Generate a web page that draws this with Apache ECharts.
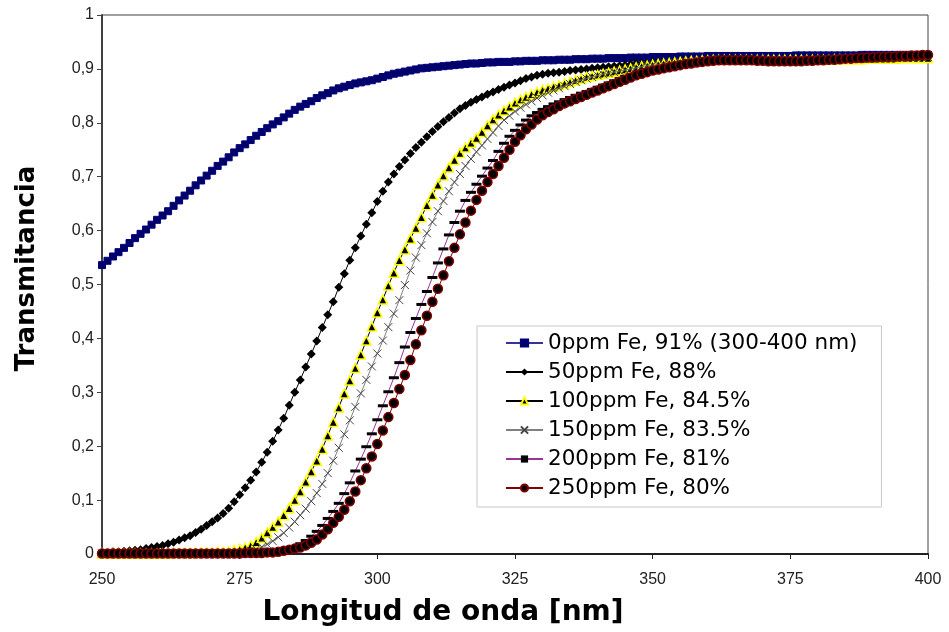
<!DOCTYPE html>
<html>
<head>
<meta charset="utf-8">
<script src="https://cdn.jsdelivr.net/npm/echarts@6/dist/echarts.min.js"></script>
<style>
  html, body { margin: 0; padding: 0; background: #fff; }
  #chart { width: 949px; height: 632px; }
</style>
</head>
<body>
<div id="chart"></div>
<script>
// wavelength grid, 250..400 nm, 1 nm step
const wavelengths = []
for (let w = 250; w <= 400; w++) wavelengths.push(w)

const seriesNames = [
  '0ppm Fe, 91% (300-400 nm)',
  '50ppm Fe, 88%',
  '100ppm Fe, 84.5%',
  '150ppm Fe, 83.5%',
  '200ppm Fe, 81%',
  '250ppm Fe, 80%'
]

const xTicks = [250, 275, 300, 325, 350, 375, 400]

const fe0 = [
  0.536, 0.544, 0.552, 0.560, 0.568, 0.577, 0.586, 0.594, 0.602, 0.611,
  0.620, 0.628, 0.636, 0.646, 0.656, 0.665, 0.674, 0.684, 0.693, 0.702,
  0.711, 0.720, 0.728, 0.736, 0.745, 0.753, 0.760, 0.768, 0.776, 0.783,
  0.790, 0.797, 0.803, 0.810, 0.817, 0.824, 0.830, 0.835, 0.840, 0.846,
  0.851, 0.855, 0.860, 0.864, 0.867, 0.870, 0.873, 0.875, 0.877, 0.879,
  0.882, 0.885, 0.888, 0.891, 0.893, 0.895, 0.897, 0.899, 0.901, 0.902,
  0.903, 0.904, 0.905, 0.906, 0.907, 0.908, 0.909, 0.910, 0.910, 0.911,
  0.912, 0.912, 0.913, 0.913, 0.913, 0.914, 0.914, 0.915, 0.915, 0.915,
  0.916, 0.916, 0.916, 0.917, 0.917, 0.917, 0.918, 0.918, 0.918, 0.919,
  0.919, 0.919, 0.920, 0.920, 0.920, 0.920, 0.921, 0.921, 0.921, 0.921,
  0.922, 0.922, 0.922, 0.922, 0.922, 0.923, 0.923, 0.923, 0.923, 0.923,
  0.924, 0.924, 0.924, 0.924, 0.924, 0.924, 0.924, 0.924, 0.924, 0.924,
  0.924, 0.924, 0.924, 0.924, 0.924, 0.924, 0.925, 0.925, 0.925, 0.925,
  0.925, 0.925, 0.925, 0.925, 0.925, 0.925, 0.925, 0.925, 0.926, 0.926,
  0.926, 0.926, 0.926, 0.926, 0.926, 0.926, 0.926, 0.926, 0.926, 0.926,
  0.926
]

const fe50 = [
  0.003, 0.003, 0.004, 0.004, 0.005, 0.006, 0.007, 0.008, 0.010, 0.012,
  0.014, 0.016, 0.019, 0.022, 0.026, 0.030, 0.034, 0.040, 0.046, 0.053,
  0.060, 0.067, 0.075, 0.085, 0.097, 0.110, 0.123, 0.137, 0.152, 0.170,
  0.189, 0.209, 0.230, 0.252, 0.276, 0.300, 0.323, 0.347, 0.371, 0.395,
  0.420, 0.444, 0.468, 0.495, 0.520, 0.545, 0.568, 0.590, 0.612, 0.633,
  0.654, 0.673, 0.690, 0.705, 0.719, 0.731, 0.743, 0.754, 0.764, 0.774,
  0.784, 0.793, 0.802, 0.810, 0.818, 0.826, 0.832, 0.838, 0.843, 0.848,
  0.853, 0.857, 0.862, 0.866, 0.870, 0.874, 0.878, 0.882, 0.885, 0.888,
  0.890, 0.892, 0.893, 0.894, 0.895, 0.897, 0.898, 0.899, 0.900, 0.901,
  0.902, 0.903, 0.904, 0.905, 0.906, 0.907, 0.908, 0.909, 0.909, 0.910,
  0.911, 0.911, 0.912, 0.912, 0.913, 0.913, 0.914, 0.914, 0.915, 0.915,
  0.916, 0.916, 0.916, 0.917, 0.917, 0.917, 0.917, 0.917, 0.917, 0.917,
  0.917, 0.917, 0.917, 0.917, 0.917, 0.917, 0.917, 0.917, 0.918, 0.918,
  0.918, 0.918, 0.919, 0.919, 0.919, 0.920, 0.920, 0.920, 0.921, 0.921,
  0.921, 0.922, 0.922, 0.922, 0.923, 0.923, 0.923, 0.924, 0.924, 0.924,
  0.925
]

const fe100 = [
  0.001, 0.001, 0.001, 0.001, 0.001, 0.001, 0.001, 0.001, 0.001, 0.001,
  0.001, 0.001, 0.001, 0.002, 0.002, 0.002, 0.002, 0.002, 0.003, 0.003,
  0.003, 0.004, 0.004, 0.005, 0.007, 0.009, 0.012, 0.016, 0.022, 0.030,
  0.040, 0.050, 0.060, 0.072, 0.085, 0.100, 0.116, 0.134, 0.153, 0.173,
  0.195, 0.220, 0.245, 0.272, 0.298, 0.322, 0.345, 0.370, 0.396, 0.422,
  0.448, 0.472, 0.498, 0.522, 0.545, 0.565, 0.585, 0.605, 0.625, 0.647,
  0.666, 0.685, 0.702, 0.717, 0.731, 0.744, 0.754, 0.763, 0.772, 0.783,
  0.795, 0.806, 0.815, 0.823, 0.830, 0.837, 0.843, 0.848, 0.853, 0.857,
  0.861, 0.864, 0.867, 0.870, 0.873, 0.876, 0.879, 0.882, 0.885, 0.887,
  0.889, 0.891, 0.893, 0.895, 0.897, 0.899, 0.901, 0.903, 0.905, 0.906,
  0.908, 0.909, 0.910, 0.911, 0.912, 0.913, 0.914, 0.915, 0.915, 0.916,
  0.916, 0.917, 0.917, 0.917, 0.917, 0.917, 0.917, 0.917, 0.917, 0.917,
  0.917, 0.917, 0.917, 0.917, 0.917, 0.917, 0.917, 0.917, 0.917, 0.917,
  0.917, 0.917, 0.917, 0.918, 0.918, 0.918, 0.918, 0.918, 0.918, 0.919,
  0.919, 0.919, 0.919, 0.919, 0.919, 0.920, 0.920, 0.920, 0.920, 0.920,
  0.920
]

const fe150 = [
  0.001, 0.001, 0.001, 0.001, 0.001, 0.001, 0.001, 0.001, 0.001, 0.001,
  0.001, 0.001, 0.001, 0.001, 0.001, 0.001, 0.001, 0.001, 0.001, 0.001,
  0.001, 0.001, 0.002, 0.002, 0.003, 0.003, 0.004, 0.006, 0.009, 0.013,
  0.018, 0.024, 0.031, 0.039, 0.049, 0.060, 0.072, 0.084, 0.098, 0.113,
  0.130, 0.150, 0.173, 0.197, 0.222, 0.248, 0.273, 0.298, 0.323, 0.348,
  0.372, 0.396, 0.421, 0.446, 0.471, 0.499, 0.526, 0.550, 0.573, 0.595,
  0.616, 0.636, 0.655, 0.673, 0.690, 0.705, 0.720, 0.733, 0.746, 0.758,
  0.770, 0.782, 0.794, 0.805, 0.813, 0.821, 0.828, 0.834, 0.840, 0.846,
  0.851, 0.856, 0.860, 0.864, 0.868, 0.872, 0.876, 0.879, 0.882, 0.885,
  0.888, 0.890, 0.892, 0.894, 0.896, 0.898, 0.900, 0.902, 0.904, 0.906,
  0.907, 0.908, 0.909, 0.910, 0.911, 0.912, 0.913, 0.914, 0.914, 0.915,
  0.915, 0.916, 0.916, 0.916, 0.916, 0.916, 0.916, 0.916, 0.916, 0.916,
  0.916, 0.916, 0.916, 0.916, 0.916, 0.916, 0.916, 0.916, 0.916, 0.917,
  0.917, 0.917, 0.917, 0.917, 0.918, 0.918, 0.918, 0.918, 0.919, 0.919,
  0.919, 0.920, 0.920, 0.920, 0.920, 0.921, 0.921, 0.921, 0.922, 0.922,
  0.922
]

const fe200 = [
  0.001, 0.001, 0.001, 0.001, 0.001, 0.001, 0.001, 0.001, 0.001, 0.001,
  0.001, 0.001, 0.001, 0.001, 0.001, 0.001, 0.001, 0.001, 0.001, 0.001,
  0.001, 0.001, 0.001, 0.001, 0.001, 0.002, 0.002, 0.002, 0.002, 0.003,
  0.003, 0.004, 0.006, 0.008, 0.011, 0.014, 0.019, 0.025, 0.033, 0.042,
  0.053, 0.066, 0.079, 0.094, 0.112, 0.132, 0.154, 0.176, 0.199, 0.223,
  0.249, 0.275, 0.301, 0.327, 0.355, 0.384, 0.411, 0.437, 0.463, 0.487,
  0.513, 0.540, 0.566, 0.592, 0.615, 0.636, 0.656, 0.671, 0.686, 0.701,
  0.716, 0.730, 0.747, 0.762, 0.775, 0.786, 0.796, 0.805, 0.813, 0.819,
  0.825, 0.830, 0.835, 0.839, 0.843, 0.847, 0.851, 0.855, 0.858, 0.862,
  0.866, 0.870, 0.874, 0.878, 0.882, 0.886, 0.889, 0.892, 0.895, 0.898,
  0.900, 0.902, 0.904, 0.906, 0.907, 0.909, 0.910, 0.911, 0.912, 0.913,
  0.914, 0.915, 0.915, 0.915, 0.915, 0.915, 0.915, 0.915, 0.915, 0.915,
  0.915, 0.914, 0.914, 0.914, 0.914, 0.914, 0.914, 0.914, 0.915, 0.915,
  0.915, 0.916, 0.916, 0.917, 0.917, 0.918, 0.918, 0.919, 0.919, 0.920,
  0.920, 0.921, 0.921, 0.922, 0.922, 0.923, 0.923, 0.924, 0.924, 0.925,
  0.925
]

const fe250 = [
  0.001, 0.001, 0.001, 0.001, 0.001, 0.001, 0.001, 0.001, 0.001, 0.001,
  0.001, 0.001, 0.001, 0.001, 0.001, 0.001, 0.001, 0.001, 0.001, 0.001,
  0.001, 0.001, 0.001, 0.001, 0.001, 0.001, 0.002, 0.002, 0.002, 0.002,
  0.003, 0.003, 0.004, 0.006, 0.008, 0.010, 0.012, 0.016, 0.021, 0.027,
  0.036, 0.046, 0.058, 0.069, 0.082, 0.098, 0.116, 0.137, 0.159, 0.181,
  0.204, 0.229, 0.254, 0.280, 0.306, 0.332, 0.360, 0.389, 0.415, 0.442,
  0.468, 0.492, 0.517, 0.543, 0.568, 0.593, 0.615, 0.637, 0.657, 0.674,
  0.690, 0.705, 0.720, 0.735, 0.750, 0.765, 0.777, 0.788, 0.797, 0.806,
  0.814, 0.820, 0.825, 0.831, 0.836, 0.840, 0.844, 0.848, 0.852, 0.856,
  0.860, 0.864, 0.868, 0.872, 0.876, 0.880, 0.884, 0.888, 0.891, 0.894,
  0.897, 0.899, 0.901, 0.903, 0.905, 0.907, 0.909, 0.910, 0.912, 0.913,
  0.914, 0.915, 0.916, 0.916, 0.916, 0.916, 0.916, 0.916, 0.916, 0.915,
  0.915, 0.914, 0.914, 0.914, 0.914, 0.914, 0.914, 0.914, 0.915, 0.915,
  0.916, 0.916, 0.917, 0.917, 0.918, 0.919, 0.919, 0.920, 0.920, 0.921,
  0.921, 0.922, 0.922, 0.923, 0.923, 0.924, 0.924, 0.925, 0.925, 0.926,
  0.926
]

const pairs = (vals) => vals.map((v, i) => [wavelengths[i], v])

const crossPath = 'path://M0,0L10,10M10,0L0,10'
const dashPath = 'path://M0,0H10V3H0Z'

const styles = [
  { data: fe0, line: '#333399', symbol: 'rect', size: 7, fill: '#000066', border: '#000080', bw: 1 },
  { data: fe50, line: '#000000', symbol: 'diamond', size: 9, fill: '#000000', border: '#000000', bw: 0 },
  { data: fe100, line: '#000000', symbol: 'triangle', size: 9, fill: '#000000', border: '#ffff00', bw: 1.5 },
  { data: fe150, line: '#808080', symbol: crossPath, size: 8, fill: 'rgba(0,0,0,0)', border: '#444444', bw: 1 },
  { data: fe200, line: '#993399', symbol: dashPath, size: [10, 3], fill: '#000000', border: '#000000', bw: 0 },
  { data: fe250, line: '#800000', symbol: 'circle', size: 9, fill: '#000000', border: '#800000', bw: 1.5 }
]

const chart = echarts.init(document.getElementById('chart'))

chart.setOption({
  animation: false,
  backgroundColor: '#ffffff',
  grid: {
    left: 102, right: 21, top: 15, bottom: 78,
    show: true, borderColor: '#404040', borderWidth: 1, backgroundColor: '#ffffff'
  },
  legend: {
    orient: 'vertical',
    left: 477, top: 326,
    padding: [6, 24, 8, 28],
    itemGap: 7,
    itemWidth: 37,
    itemHeight: 9,
    backgroundColor: '#ffffff',
    borderColor: '#c8c8c8',
    borderWidth: 1,
    textStyle: { fontFamily: 'DejaVu Sans', fontSize: 21.5, color: '#000', lineHeight: 22 },
    data: seriesNames
  },
  xAxis: {
    type: 'value',
    min: 250, max: 400, interval: 25,
    name: 'Longitud de onda [nm]',
    nameLocation: 'middle',
    nameGap: 45,
    nameTextStyle: {
      fontFamily: 'DejaVu Sans', fontWeight: 'bold', fontSize: 28, color: '#000',
      padding: [0, 144, 0, 0]
    },
    axisLine: { lineStyle: { color: '#202020', width: 2 } },
    axisTick: { inside: false, length: 5, lineStyle: { color: '#202020' } },
    axisLabel: {
      fontFamily: 'Liberation Sans', fontSize: 16, color: '#222', margin: 18,
      formatter: (v) => xTicks.includes(v) ? String(v) : ''
    },
    splitLine: { show: false }
  },
  yAxis: {
    type: 'value',
    min: 0, max: 1, interval: 0.1,
    name: 'Transmitancia',
    nameLocation: 'middle',
    nameGap: 62,
    nameTextStyle: {
      fontFamily: 'DejaVu Sans', fontWeight: 'bold', fontSize: 26, color: '#000',
      padding: [0, 0, 0, 32]
    },
    axisLine: { show: true, lineStyle: { color: '#404040', width: 2 } },
    axisTick: { show: true, inside: false, length: 5, lineStyle: { color: '#404040' } },
    axisLabel: {
      fontFamily: 'Liberation Sans', fontSize: 16, color: '#222', margin: 8,
      formatter: (v) => String(Math.round(v * 10) / 10).replace('.', ',')
    },
    splitLine: { show: false }
  },
  series: styles.map((s, i) => ({
    name: seriesNames[i],
    type: 'line',
    data: pairs(s.data),
    showAllSymbol: true,
    symbol: s.symbol,
    symbolSize: s.size,
    lineStyle: { color: s.line, width: 1 },
    itemStyle: { color: s.fill, borderColor: s.border, borderWidth: s.bw },
    emphasis: { disabled: true },
    z: 2 + i
  }))
})
</script>
</body>
</html>
